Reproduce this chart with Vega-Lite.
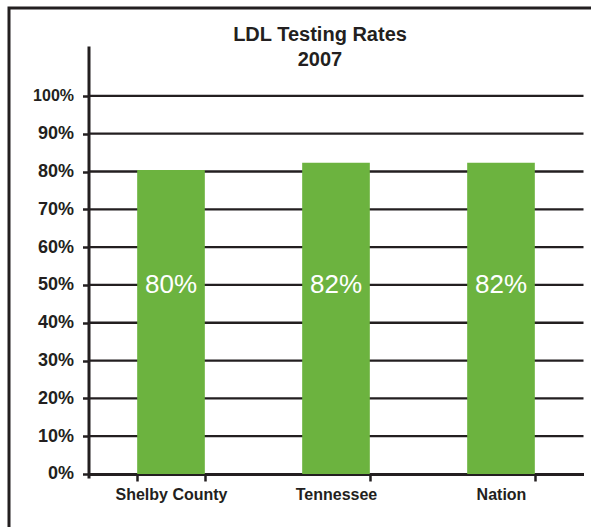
{
  "$schema": "https://vega.github.io/schema/vega-lite/v6.json",
  "width": 590,
  "height": 525,
  "autosize": {"type": "none"},
  "padding": {"left": 9, "top": 8, "right": 0, "bottom": 0},
  "background": "white",
  "config": {
    "view": {"stroke": "#231f20", "strokeWidth": 3},
    "font": "Liberation Sans",
    "axis": {
      "domainColor": "#231f20",
      "domainWidth": 3,
      "tickColor": "#231f20",
      "tickWidth": 2.5,
      "labelColor": "#231f20",
      "labelFont": "Liberation Sans",
      "labelFontWeight": "bold",
      "grid": false,
      "title": null,
      "zindex": 1
    }
  },
  "title": {
    "text": ["LDL Testing Rates", "2007"],
    "font": "Liberation Sans",
    "fontSize": 20,
    "fontWeight": "bold",
    "color": "#231f20",
    "lineHeight": 25,
    "anchor": "middle",
    "frame": "group",
    "orient": "top",
    "offset": -62,
    "dx": 16
  },
  "datasets": {
    "bars": [
      {"region": "Shelby County", "rate": 80.4, "label": "80%"},
      {"region": "Tennessee", "rate": 82.3, "label": "82%"},
      {"region": "Nation", "rate": 82.3, "label": "82%"}
    ],
    "grid": [
      {"g": 10}, {"g": 20}, {"g": 30}, {"g": 40}, {"g": 50},
      {"g": 60}, {"g": 70}, {"g": 80}, {"g": 90}, {"g": 100}
    ]
  },
  "layer": [
    {
      "data": {"name": "grid"},
      "mark": {"type": "rule", "color": "#231f20", "strokeWidth": 2.3},
      "encoding": {
        "y": {"field": "g", "type": "quantitative"},
        "x": {"datum": 0, "type": "quantitative", "scale": {"domain": [0, 1], "range": [79.5, 574.5]}, "axis": null},
        "x2": {"datum": 1}
      }
    },
    {
      "data": {"name": "bars"},
      "encoding": {
        "x": {
          "field": "region",
          "type": "nominal",
          "sort": null,
          "scale": {"range": [79.5, 574.5], "paddingInner": 0.59, "paddingOuter": 0.295},
          "axis": {
            "labelAngle": 0,
            "tickBand": "extent",
            "offset": -59,
            "tickSize": 7,
            "labelFontSize": 16,
            "labelPadding": 5
          }
        }
      },
      "layer": [
        {
          "mark": {"type": "bar", "color": "#6cb33f"},
          "encoding": {
            "y": {
              "field": "rate",
              "type": "quantitative",
              "scale": {"domain": [-1.06, 113.2], "range": [470, 38], "nice": false, "zero": false},
              "axis": {
                "values": [0, 10, 20, 30, 40, 50, 60, 70, 80, 90, 100],
                "labelExpr": "datum.value + '%'",
                "offset": -79.5,
                "tickSize": 6,
                "labelFontSize": {"expr": "datum.value == 100 ? 16 : 18"},
                "labelPadding": 9
              }
            }
          }
        },
        {
          "mark": {"type": "text", "color": "white", "fontSize": 26, "baseline": "middle", "align": "center", "font": "Liberation Sans"},
          "encoding": {
            "y": {"datum": 50, "type": "quantitative"},
            "text": {"field": "label"}
          }
        }
      ]
    }
  ],
  "resolve": {"scale": {"x": "independent"}}
}
